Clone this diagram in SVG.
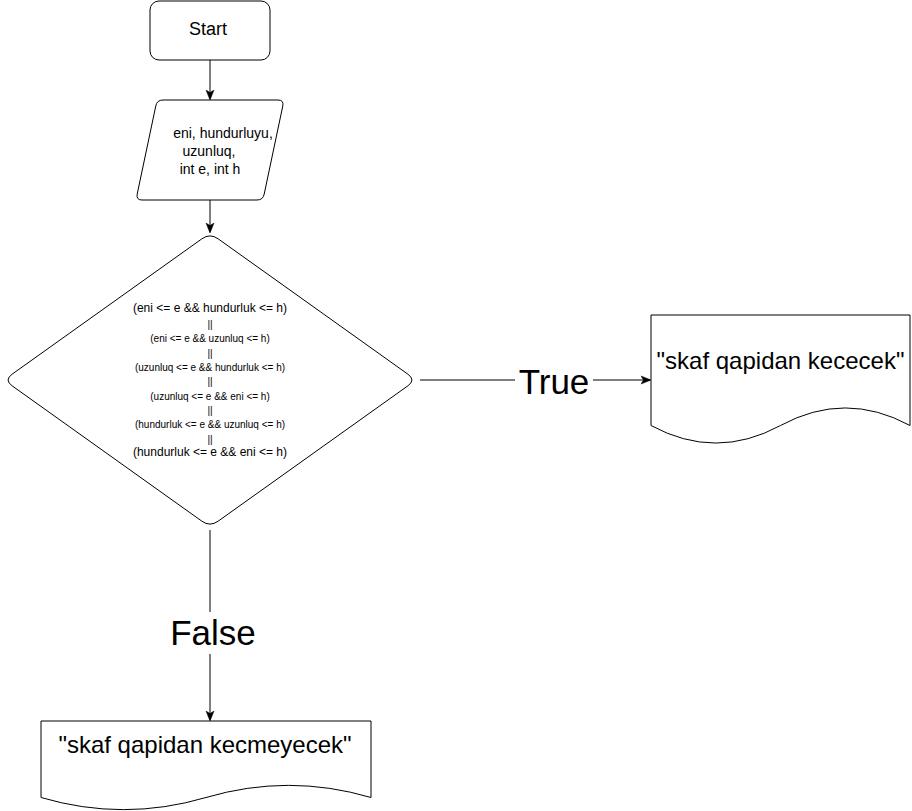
<svg xmlns="http://www.w3.org/2000/svg" width="912" height="811" viewBox="0 0 912 811">
<defs>
<style>
.shape{fill:#fff;stroke:#000;stroke-width:1}
.edge{fill:none;stroke:#000;stroke-width:1}
text{font-family:"Liberation Sans",Arial,sans-serif;fill:#000;text-anchor:middle}
.big{font-size:35px}
.doc{font-size:24px}
.d12{font-size:12px}
.d10{font-size:10px}
.par{font-size:14px}
</style>
<marker id="arr" viewBox="0 0 10 10" refX="9" refY="5" markerWidth="10" markerHeight="10" markerUnits="userSpaceOnUse" orient="auto">
<path d="M0,1 L10,5 L0,9 L2.5,5 Z" fill="#000" stroke="#000" stroke-width="0.5"/>
</marker>
</defs>
<rect width="912" height="811" fill="#fff"/>
<g id="connectors">
<path class="edge" d="M210,60 L210,99" marker-end="url(#arr)"/>
<path class="edge" d="M210,200 L210,232" marker-end="url(#arr)"/>
<path class="edge" d="M210,530 L210,720" marker-end="url(#arr)"/>
<path class="edge" d="M420,380 L650,380" marker-end="url(#arr)"/>
<rect x="515" y="362" width="78" height="38" fill="#fff"/>
<text class="big" x="554" y="394">True</text>
<rect x="168" y="612" width="92" height="42" fill="#fff"/>
<text class="big" x="213" y="645">False</text>
</g>
<g id="start">
<rect class="shape" x="150" y="1" width="120" height="59" rx="9" ry="9"/>
<text x="208" y="35" style="font-size:18px">Start</text>
</g>
<g id="input">
<path class="shape" d="M163,100 L278,100 Q284,100 282.8,105.9 L264.2,194.1 Q263,200 257,200 L142,200 Q136,200 137.2,194.1 L155.8,105.9 Q157,100 163,100 Z"/>
<text class="par" x="223" y="138">eni, hundurluyu,</text>
<text class="par" x="209" y="156">uzunluq,</text>
<text class="par" x="210" y="174">int e, int h</text>
</g>
<g id="decision">
<path class="shape" d="M201.9,238.8 Q210,233 218.1,238.8 L407.9,374.2 Q416,380 407.9,385.8 L218.1,521.2 Q210,527 201.9,521.2 L12.1,385.8 Q4,380 12.1,374.2 Z"/>
<text class="d12" x="210" y="312">(eni &lt;= e &amp;&amp; hundurluk &lt;= h)</text>
<text class="d10" x="210" y="328">||</text>
<text class="d10" x="210" y="342">(eni &lt;= e &amp;&amp; uzunluq &lt;= h)</text>
<text class="d10" x="210" y="356.5">||</text>
<text class="d10" x="210" y="370.5">(uzunluq &lt;= e &amp;&amp; hundurluk &lt;= h)</text>
<text class="d10" x="210" y="384.5">||</text>
<text class="d10" x="210" y="399.5">(uzunluq &lt;= e &amp;&amp; eni &lt;= h)</text>
<text class="d10" x="210" y="413.5">||</text>
<text class="d10" x="210" y="427.5">(hundurluk &lt;= e &amp;&amp; uzunluq &lt;= h)</text>
<text class="d10" x="210" y="442.5">||</text>
<text class="d12" x="210" y="456">(hundurluk &lt;= e &amp;&amp; eni &lt;= h)</text>
</g>
<g id="out-true">
<path class="shape" d="M651,315 L910,315 L910,425.5 Q845.25,390.4 780.5,425.5 Q715.75,460.6 651,425.5 Z"/>
<text class="doc" x="780.5" y="369">"skaf qapidan kececek"</text>
</g>
<g id="out-false">
<path class="shape" d="M41,721 L371,721 L371,797.5 Q288.5,773.2 206,797.5 Q123.5,821.8 41,797.5 Z"/>
<text class="doc" x="205" y="753">"skaf qapidan kecmeyecek"</text>
</g>
</svg>
